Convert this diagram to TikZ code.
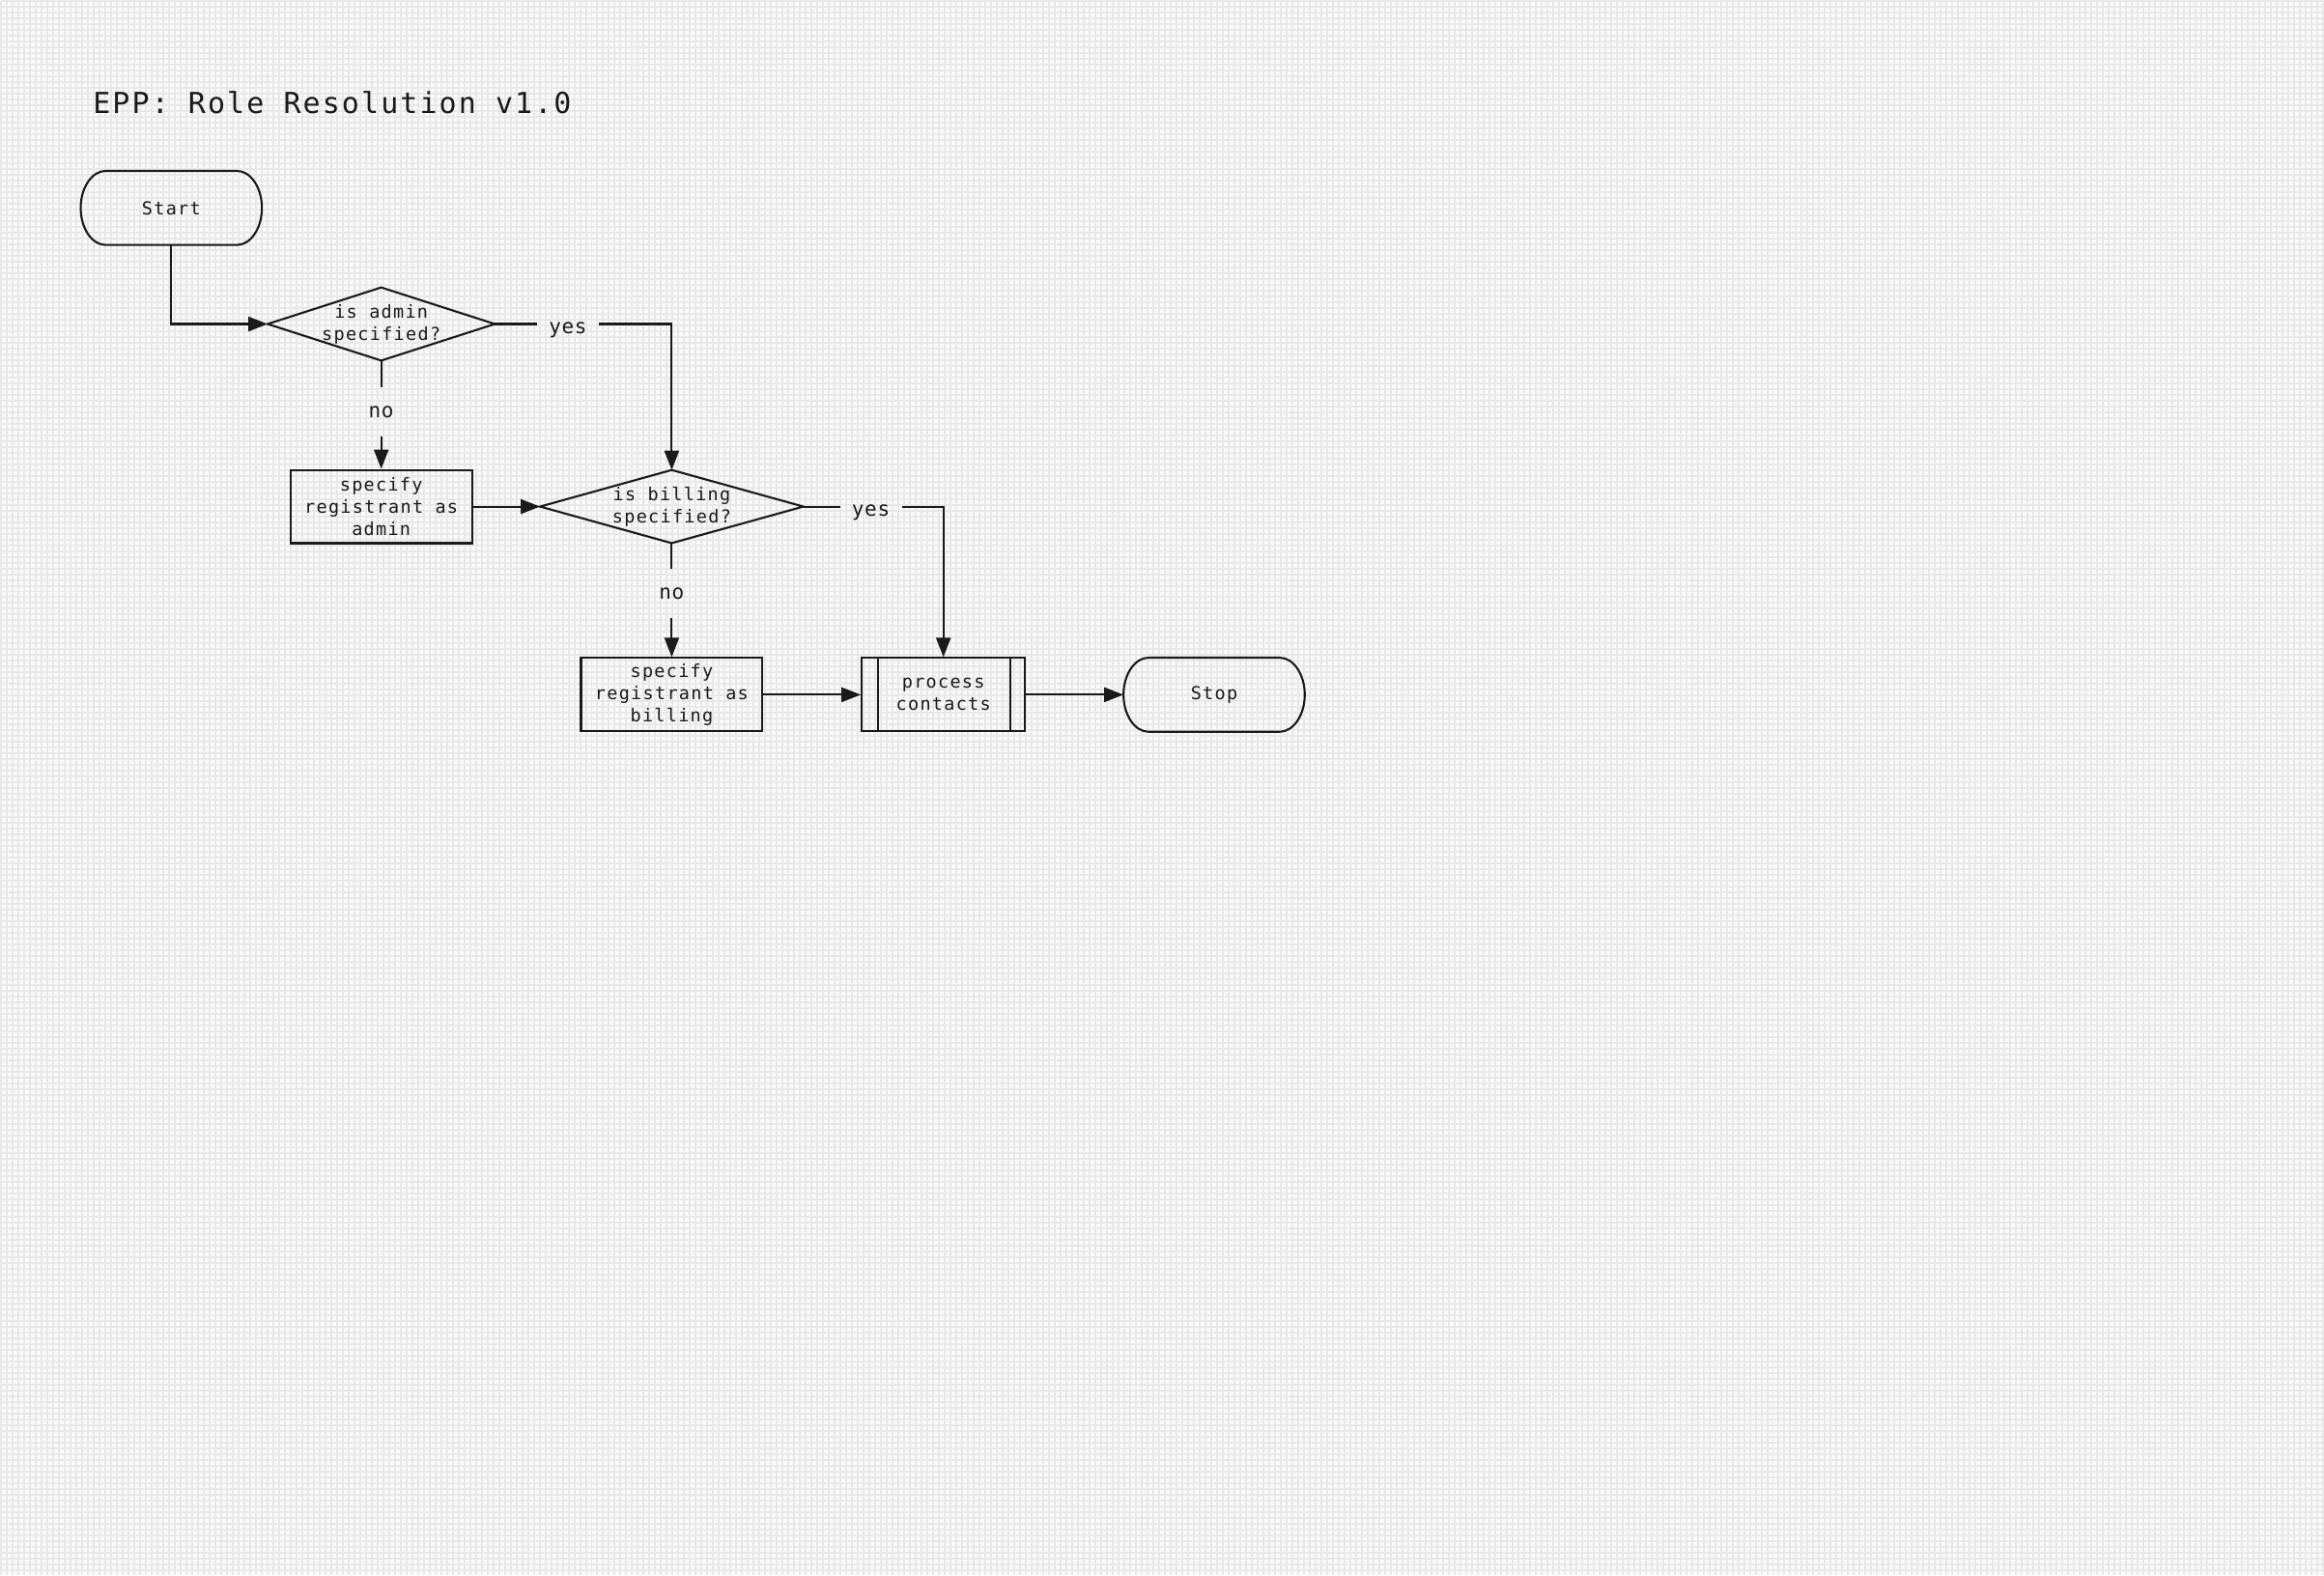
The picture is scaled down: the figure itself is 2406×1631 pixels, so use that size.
\documentclass[tikz,border=0pt]{standalone}
\usepackage{fontspec}
\usetikzlibrary{arrows.meta,calc}
\newfontfamily\nodefnt[LetterSpace=7]{DejaVu Sans Mono}
\newfontfamily\titlefnt[LetterSpace=7]{DejaVu Sans Mono}
\newfontfamily\lblfnt[LetterSpace=3]{DejaVu Sans Mono}
\definecolor{ink}{HTML}{1A1A1A}
\definecolor{gridline}{HTML}{E8E8E8}
\definecolor{gridbg}{HTML}{FAFAFA}
\newcommand\nodetext{\nodefnt\fontsize{9.25pt}{11.5pt}\selectfont}
\newcommand\titletext{\titlefnt\fontsize{15pt}{18pt}\selectfont}
\newcommand\lbltext{\lblfnt\fontsize{10.5pt}{12.5pt}\selectfont}
\newcommand\termpath[1]{%
 \draw[shapeline] ([xshift=-13pt]#1.north east)
   .. controls ([xshift=-5.82pt]#1.north east) and ([yshift=10.49pt]#1.east) .. (#1.east)
   .. controls ([yshift=-10.49pt]#1.east) and ([xshift=-5.82pt]#1.south east) .. ([xshift=-13pt]#1.south east)
   -- ([xshift=13pt]#1.south west)
   .. controls ([xshift=5.82pt]#1.south west) and ([yshift=-10.49pt]#1.west) .. (#1.west)
   .. controls ([yshift=10.49pt]#1.west) and ([xshift=5.82pt]#1.north west) .. ([xshift=13pt]#1.north west)
   -- cycle;}
\newcommand\diampath[1]{%
 \draw[shapeline] (#1.west) -- (#1.north) -- (#1.east) -- (#1.south) -- cycle;}
\tikzset{
  shapeline/.style={draw=ink, line width=1.05pt, line join=miter},
  term/.style={minimum width=93.5pt, minimum height=38pt, inner sep=0pt, align=center, font=\nodetext, text=ink},
  boxnode/.style={draw=ink, line width=1.05pt, minimum width=94pt, minimum height=38pt, inner sep=0pt, align=center, font=\nodetext, text=ink},
  dec/.style={minimum height=37.5pt, inner sep=0pt, align=center, font=\nodetext, text=ink},
  lbl/.style={inner xsep=6pt, inner ysep=9.4pt, font=\lbltext, text=ink},
  plainline/.style={draw=ink, line width=1.05pt},
  conn/.style={draw=ink, line width=1.05pt, -{Triangle[length=10pt,width=7.5pt]}},
}
\begin{document}
\begin{tikzpicture}[x=0.5pt, y=-0.5pt]
\fill[gridbg] (0,0) rectangle (2406,1631);
\draw[gridline, line width=1pt, step=3pt] (0,1631) grid (2406,0);
\useasboundingbox (0,0) rectangle (2406,1631);

\node[anchor=base west, inner sep=0pt, font=\titletext, text=ink] (title) at (95,117) {EPP: Role Resolution v1.0};

\node[term] (start) at (176.5,214.5) {Start};
\termpath{start}
\node[dec, minimum width=117.3pt] (d1) at (394,334.8) {is admin\\specified?};
\diampath{d1}
\node[boxnode] (b1) at (394,524) {specify\\registrant as\\admin};
\node[dec, minimum width=136pt] (d2) at (695,524) {is billing\\specified?};
\diampath{d2}
\node[boxnode] (b2) at (695,719) {specify\\registrant as\\billing};
\node[boxnode, minimum width=84.5pt] (proc) at (976.5,719) {process\\contacts};
\draw[shapeline] ([xshift=8.75pt]proc.north west) -- ([xshift=8.75pt]proc.south west);
\draw[shapeline] ([xshift=-8pt]proc.north east) -- ([xshift=-8pt]proc.south east);
\node[term] (stop) at (1257,719) {Stop};
\termpath{stop}

\node[lbl] (yes1) at (587.5,341) {yes};
\node[lbl] (no1) at (394,426) {no};
\node[lbl] (yes2) at (901.3,530) {yes};
\node[lbl] (no2) at (695,614) {no};

\draw[conn] (start.south) |- (d1.west);
\draw[plainline] (d1.east) -- (d1.east -| yes1.west);
\draw[conn] (d1.east -| yes1.east) -| (d2.north);
\draw[plainline] (d1.south) -- (no1.north);
\draw[conn] (no1.south) -- (b1.north);
\draw[conn] (b1.east) -- (d2.west);
\draw[plainline] (d2.east) -- (d2.east -| yes2.west);
\draw[conn] (d2.east -| yes2.east) -| (proc.north);
\draw[plainline] (d2.south) -- (no2.north);
\draw[conn] (no2.south) -- (b2.north);
\draw[conn] (b2.east) -- (proc.west);
\draw[conn] (proc.east) -- (stop.west);
\end{tikzpicture}
\end{document}
